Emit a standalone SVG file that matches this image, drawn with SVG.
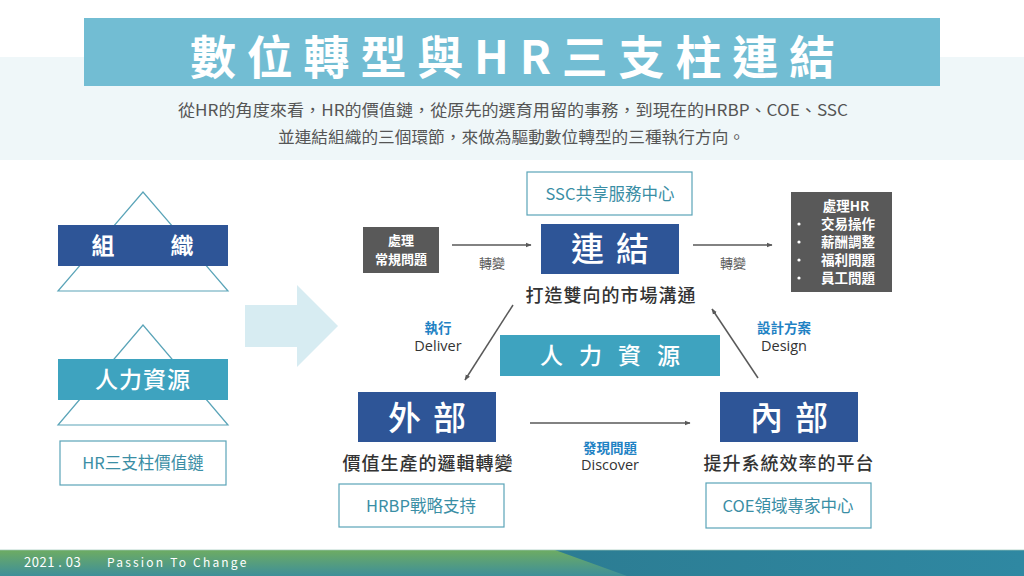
<svg xmlns="http://www.w3.org/2000/svg" width="1024" height="576" viewBox="0 0 1024 576">
  <defs>
    <style>
      text { font-family: "Noto Sans CJK TC", "Noto Sans", sans-serif; }
      .box-dark { fill: #2e5597; }
      .box-teal { fill: #3ea3bf; }
      .box-gray { fill: #595959; }
      .outline { fill: #ffffff; stroke: #5aa4b8; stroke-width: 1.2; }
      .tri { fill: none; stroke: #5aa4b8; stroke-width: 1.2; }
      .wt { fill: #ffffff; }
      .teal-t { fill: #3a8ea5; font-size: 16.5px; }
      .dark-t { fill: #333333; font-size: 18px; font-weight: 500; letter-spacing: 1px; }
      .blue-t { fill: #1f82c4; font-size: 13.5px; font-weight: 700; }
      .en-t { fill: #333333; font-size: 14.5px; font-family: "Open Sans", "Noto Sans", sans-serif; }
      .gray-t { fill: #595959; font-size: 13px; }
      .conn { stroke: #595959; stroke-width: 1.5; fill: none; marker-end: url(#ah); }
    </style>
    <marker id="ah" viewBox="0 0 10 10" refX="9" refY="5" markerWidth="6" markerHeight="6" orient="auto" markerUnits="userSpaceOnUse">
      <path d="M0,1 L10,5 L0,9 Z" fill="#595959"/>
    </marker>
    <linearGradient id="gLeft" x1="0" y1="0" x2="0" y2="1">
      <stop offset="0" stop-color="#6eac62"/>
      <stop offset="1" stop-color="#3e8f99"/>
    </linearGradient>
    <linearGradient id="gRight" x1="0" y1="0" x2="1" y2="0">
      <stop offset="0" stop-color="#286f81"/>
      <stop offset="1" stop-color="#2f88a2"/>
    </linearGradient>
  </defs>

  <rect x="0" y="0" width="1024" height="576" fill="#ffffff"/>
  <!-- light band -->
  <rect x="0" y="57" width="1024" height="103" fill="#eff7f9"/>

  <!-- title -->
  <g id="title">
    <rect x="84" y="18" width="856" height="68" fill="#72bdd3"/>
    <text x="190" y="74" font-size="46" font-weight="700" fill="#ffffff" textLength="645" lengthAdjust="spacing">數位轉型與HR三支柱連結</text>
  </g>
  <g id="subtitle" fill="#555555" font-size="16">
    <text x="178" y="116" textLength="670" lengthAdjust="spacingAndGlyphs">從HR的角度來看，HR的價值鏈，從原先的選育用留的事務，到現在的HRBP、COE、SSC</text>
    <text x="278" y="143" textLength="467" lengthAdjust="spacingAndGlyphs">並連結組織的三個環節，來做為驅動數位轉型的三種執行方向。</text>
  </g>

  <!-- left pyramids -->
  <g id="org">
    <polygon class="tri" points="143,192 58,291 228,291"/>
    <rect class="box-dark" x="58" y="225" width="170" height="41"/>
    <text class="wt" x="103" y="254" font-size="23" font-weight="700" text-anchor="middle">組</text>
    <text class="wt" x="182" y="254" font-size="23" font-weight="700" text-anchor="middle">織</text>
  </g>
  <g id="hr">
    <polygon class="tri" points="143,325 58,425 228,425"/>
    <rect class="box-teal" x="58" y="359" width="170" height="41"/>
    <text class="wt" x="143" y="388" font-size="23" font-weight="500" text-anchor="middle" letter-spacing="1">人力資源</text>
  </g>
  <g id="hr-chain">
    <rect class="outline" x="60" y="441" width="166" height="44"/>
    <text class="teal-t" x="143" y="469" text-anchor="middle">HR三支柱價值鏈</text>
  </g>

  <!-- big arrow -->
  <g id="big-arrow">
    <polygon points="245,305 297,305 297,285 338,326 297,367 297,347 245,347" fill="#d7ecf2"/>
  </g>

  <!-- connectors -->
  <g id="connectors">
    <line class="conn" x1="452" y1="245" x2="531" y2="245"/>
    <line class="conn" x1="693" y1="245" x2="772" y2="245"/>
    <line class="conn" x1="513" y1="305" x2="465" y2="380"/>
    <line class="conn" x1="530" y1="423" x2="690" y2="423"/>
    <line class="conn" x1="758" y1="378" x2="712" y2="309"/>
    <text class="gray-t" x="492" y="268" text-anchor="middle">轉變</text>
    <text class="gray-t" x="733" y="268" text-anchor="middle">轉變</text>
    <text class="blue-t" x="438" y="333" text-anchor="middle">執行</text>
    <text class="en-t" x="438" y="351" text-anchor="middle">Deliver</text>
    <text class="blue-t" x="784" y="333" text-anchor="middle">設計方案</text>
    <text class="en-t" x="784" y="351" text-anchor="middle">Design</text>
    <text class="blue-t" x="610" y="453" text-anchor="middle">發現問題</text>
    <text class="en-t" x="610" y="470" text-anchor="middle">Discover</text>
  </g>

  <!-- SSC -->
  <g id="ssc">
    <rect class="outline" x="527" y="172" width="165" height="43"/>
    <text class="teal-t" x="610" y="200" text-anchor="middle">SSC共享服務中心</text>
  </g>
  <g id="routine">
    <rect class="box-gray" x="363" y="227" width="76" height="46"/>
    <text class="wt" x="401" y="245" font-size="13" font-weight="700" text-anchor="middle">處理</text>
    <text class="wt" x="401" y="264" font-size="13" font-weight="700" text-anchor="middle">常規問題</text>
  </g>
  <g id="link">
    <rect class="box-dark" x="541" y="224" width="138" height="50"/>
    <text class="wt" x="616" y="261" font-size="33" font-weight="500" text-anchor="middle" letter-spacing="12">連結</text>
    <text class="dark-t" x="611" y="302" text-anchor="middle">打造雙向的市場溝通</text>
  </g>
  <g id="hr-tasks">
    <rect class="box-gray" x="791" y="192" width="101" height="100"/>
    <g class="wt" font-size="13.5" font-weight="700">
      <text x="846" y="211" text-anchor="middle">處理HR</text>
      <text x="821" y="229">交易操作</text>
      <text x="821" y="247">薪酬調整</text>
      <text x="821" y="265">福利問題</text>
      <text x="821" y="283">員工問題</text>
      <circle cx="799" cy="224" r="1.6"/>
      <circle cx="799" cy="242" r="1.6"/>
      <circle cx="799" cy="260" r="1.6"/>
      <circle cx="799" cy="278" r="1.6"/>
    </g>
  </g>

  <!-- HR center -->
  <g id="hr-center">
    <rect class="box-teal" x="500" y="335" width="220" height="41"/>
    <text class="wt" x="618" y="364" font-size="23" font-weight="500" text-anchor="middle" letter-spacing="16">人力資源</text>
  </g>

  <!-- external -->
  <g id="external">
    <rect class="box-dark" x="358" y="392" width="138" height="50"/>
    <text class="wt" x="433" y="430" font-size="33" font-weight="500" text-anchor="middle" letter-spacing="12">外部</text>
    <text class="dark-t" x="428" y="470" text-anchor="middle">價值生產的邏輯轉變</text>
  </g>
  <g id="hrbp">
    <rect class="outline" x="339" y="484" width="165" height="43"/>
    <text class="teal-t" x="421" y="512" text-anchor="middle">HRBP戰略支持</text>
  </g>

  <!-- internal -->
  <g id="internal">
    <rect class="box-dark" x="720" y="392" width="138" height="50"/>
    <text class="wt" x="795" y="430" font-size="33" font-weight="500" text-anchor="middle" letter-spacing="12">內部</text>
    <text class="dark-t" x="789" y="470" text-anchor="middle">提升系統效率的平台</text>
  </g>
  <g id="coe">
    <rect class="outline" x="706" y="483" width="165" height="45"/>
    <text class="teal-t" x="788" y="512" text-anchor="middle">COE領域專家中心</text>
  </g>

  <!-- footer -->
  <g id="footer">
    <rect x="0" y="550" width="1024" height="26" fill="url(#gRight)"/>
    <polygon points="0,550 555,550 627,576 0,576" fill="url(#gLeft)"/>
    <rect x="0" y="549.5" width="1024" height="1" fill="#9cc7b8" opacity="0.7"/>
    <text x="24" y="567" font-size="13" fill="#ffffff" font-family="'Open Sans', 'Noto Sans', sans-serif" letter-spacing="0.5">2021 . 03</text>
    <text x="107" y="567" font-size="12" fill="#ffffff" font-family="'Open Sans', 'Noto Sans', sans-serif" letter-spacing="2.2">Passion To Change</text>
  </g>
</svg>
